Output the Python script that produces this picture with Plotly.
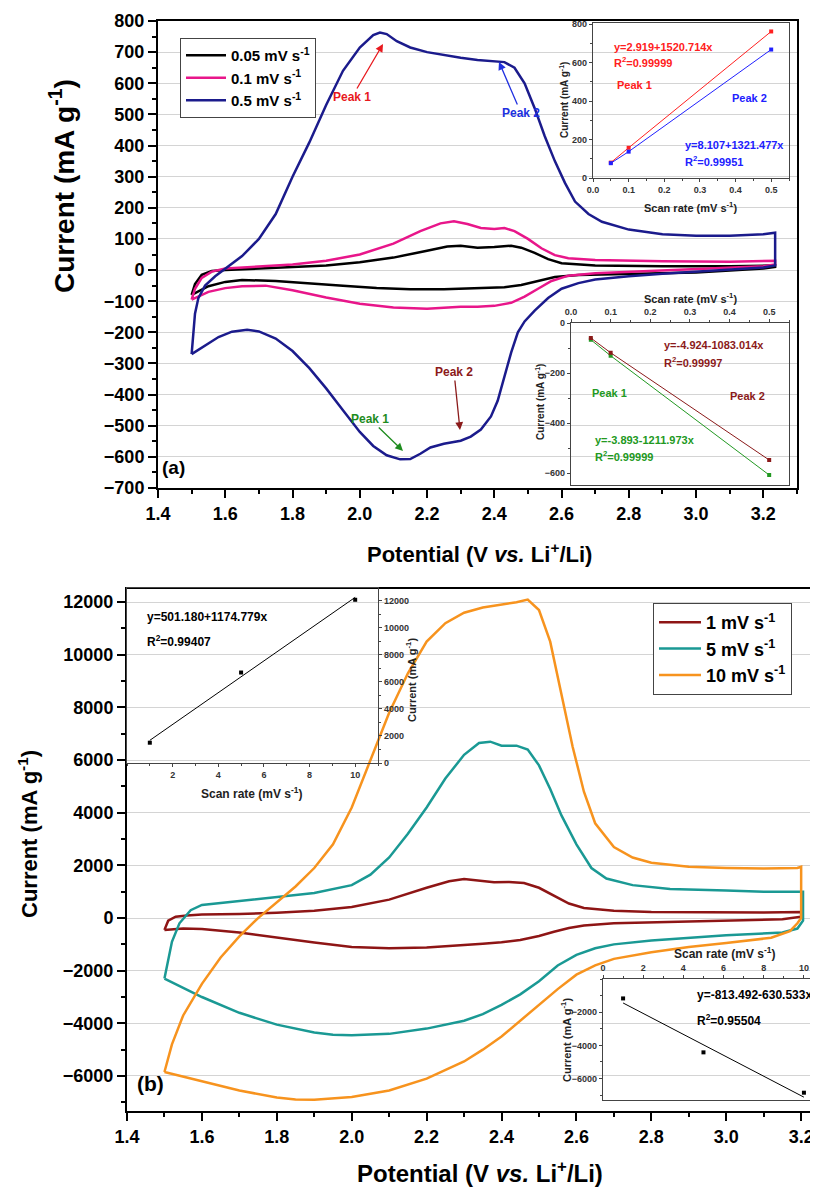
import plotly.graph_objects as go

# page is offset by the 8px body margin, so the figure is 810x1181
OFF = 8
W, H = 818 - OFF, 1189 - OFF
def fx(px): return (px - OFF) / W
def fy(py): return 1 - (py - OFF) / H

FONT = "Liberation Sans"

# ---------------- Panel (a) CV data ----------------
a005_v = [1.50, 1.51, 1.53, 1.56, 1.60, 1.70, 1.80, 1.90, 2.00, 2.10, 2.20, 2.26, 2.30, 2.35, 2.40, 2.45, 2.48, 2.52, 2.56, 2.60, 2.70, 2.90, 3.10, 3.235,
          3.235, 3.20, 3.00, 2.80, 2.65, 2.58, 2.53, 2.48, 2.43, 2.35, 2.25, 2.15, 2.05, 1.95, 1.85, 1.75, 1.65, 1.60, 1.55, 1.50]
a005_i = [-80, -45, -15, -3, 0, 5, 10, 15, 25, 40, 62, 76, 78, 72, 74, 78, 72, 55, 35, 22, 15, 12, 12, 15,
          10, 5, -8, -12, -16, -22, -35, -48, -55, -58, -62, -62, -58, -50, -42, -35, -32, -38, -52, -80]

a01_v = [1.50, 1.51, 1.53, 1.56, 1.60, 1.70, 1.80, 1.90, 2.00, 2.10, 2.18, 2.24, 2.28, 2.32, 2.36, 2.40, 2.43, 2.46, 2.50, 2.54, 2.58, 2.62, 2.70, 2.90, 3.10, 3.235,
         3.235, 3.20, 3.10, 3.00, 2.80, 2.70, 2.62, 2.57, 2.53, 2.49, 2.45, 2.40, 2.35, 2.30, 2.20, 2.10, 2.00, 1.90, 1.80, 1.72, 1.65, 1.60, 1.55, 1.50]
a01_i = [-95, -60, -25, -5, 5, 12, 18, 30, 50, 85, 125, 150, 157, 148, 135, 132, 135, 125, 100, 70, 48, 38, 32, 28, 27, 30,
         18, 12, 8, 2, -5, -10, -18, -35, -60, -85, -105, -115, -118, -118, -124, -120, -108, -88, -65, -50, -52, -58, -70, -95]

a05_v = [1.50, 1.505, 1.51, 1.52, 1.54, 1.57, 1.60, 1.65, 1.70, 1.75, 1.80, 1.85, 1.90, 1.95, 2.00, 2.04, 2.06, 2.08, 2.11, 2.15, 2.20, 2.25, 2.30, 2.35, 2.40, 2.43, 2.46, 2.49, 2.52, 2.55, 2.58, 2.61, 2.64, 2.68, 2.72, 2.80, 2.90, 3.00, 3.10, 3.20, 3.235,
         3.235, 3.20, 3.10, 3.00, 2.90, 2.80, 2.70, 2.65, 2.60, 2.56, 2.52, 2.49, 2.47, 2.45, 2.43, 2.41, 2.39, 2.36, 2.33, 2.30, 2.25, 2.21, 2.18, 2.15, 2.12, 2.08, 2.04, 2.00, 1.95, 1.90, 1.85, 1.80, 1.75, 1.70, 1.665, 1.62, 1.58, 1.55, 1.52, 1.50]
a05_i = [-270, -200, -140, -90, -50, -20, 5, 45, 100, 180, 300, 410, 530, 640, 715, 755, 763, 758, 735, 715, 700, 690, 682, 675, 670, 668, 650, 600, 520, 430, 350, 280, 220, 180, 155, 130, 115, 110, 110, 115, 120,
         15, 8, 2, -5, -12, -20, -30, -42, -60, -90, -130, -165, -200, -265, -345, -420, -470, -512, -535, -548, -558, -570, -590, -607, -608, -595, -565, -520, -450, -380, -315, -260, -220, -197, -192, -198, -215, -235, -255, -270]

# inset (a) upper: anodic peak current vs scan rate
ins_a_rate = [0.05, 0.1, 0.5]
ins_a_p1 = [80, 157, 762]
ins_a_p2 = [77, 137, 668]
# inset (a) lower: cathodic peak current vs scan rate
ins_a_c1 = [-67, -131, -608]
ins_a_c2 = [-60, -119, -548]

# ---------------- Panel (b) CV data ----------------
b1_v = [1.50, 1.505, 1.51, 1.53, 1.56, 1.60, 1.70, 1.80, 1.90, 2.00, 2.10, 2.20, 2.26, 2.30, 2.34, 2.38, 2.42, 2.46, 2.50, 2.54, 2.58, 2.62, 2.70, 2.80, 3.00, 3.10, 3.20,
        3.20, 3.15, 3.00, 2.80, 2.70, 2.62, 2.58, 2.54, 2.50, 2.45, 2.40, 2.35, 2.30, 2.20, 2.10, 2.00, 1.90, 1.80, 1.70, 1.60, 1.55, 1.50]
b1_i = [-450, -300, -100, 50, 100, 130, 150, 200, 280, 420, 700, 1150, 1400, 1480, 1430, 1360, 1370, 1330, 1150, 850, 550, 380, 280, 230, 210, 210, 230,
        50, -50, -100, -150, -200, -280, -380, -520, -680, -830, -920, -980, -1030, -1120, -1150, -1100, -930, -750, -550, -420, -400, -450]

b5_v = [1.50, 1.51, 1.52, 1.54, 1.57, 1.60, 1.70, 1.80, 1.90, 2.00, 2.05, 2.10, 2.15, 2.20, 2.25, 2.30, 2.34, 2.37, 2.40, 2.44, 2.47, 2.50, 2.53, 2.56, 2.60, 2.64, 2.68, 2.75, 2.85, 3.00, 3.10, 3.205,
        3.205, 3.19, 3.15, 3.00, 2.90, 2.80, 2.70, 2.65, 2.60, 2.55, 2.50, 2.45, 2.40, 2.35, 2.30, 2.20, 2.10, 2.00, 1.95, 1.90, 1.80, 1.70, 1.60, 1.55, 1.50]
b5_i = [-2300, -1600, -900, -200, 300, 500, 650, 800, 950, 1250, 1650, 2300, 3200, 4200, 5300, 6200, 6650, 6700, 6550, 6550, 6400, 5800, 4900, 3900, 2800, 1900, 1500, 1250, 1100, 1050, 1000, 1000,
        -100, -400, -550, -650, -750, -850, -1000, -1150, -1400, -1800, -2400, -2900, -3300, -3650, -3900, -4200, -4400, -4450, -4430, -4350, -4050, -3600, -3000, -2650, -2300]

b10_v = [1.50, 1.52, 1.55, 1.60, 1.65, 1.70, 1.75, 1.80, 1.85, 1.90, 1.95, 2.00, 2.05, 2.10, 2.15, 2.20, 2.25, 2.30, 2.35, 2.40, 2.44, 2.47, 2.50, 2.53, 2.56, 2.59, 2.62, 2.65, 2.70, 2.75, 2.80, 2.90, 3.00, 3.10, 3.19, 3.20,
         3.20, 3.19, 3.17, 3.12, 3.00, 2.90, 2.80, 2.70, 2.65, 2.60, 2.55, 2.50, 2.45, 2.40, 2.35, 2.30, 2.20, 2.10, 2.00, 1.90, 1.85, 1.80, 1.70, 1.60, 1.50]
b10_i = [-5850, -4800, -3700, -2500, -1500, -700, 0, 600, 1200, 1900, 2800, 4200, 6000, 7800, 9300, 10500, 11200, 11600, 11800, 11900, 12000, 12100, 11700, 10500, 8500, 6500, 4800, 3600, 2700, 2300, 2100, 1950, 1900, 1880, 1900, 1950,
         0, -200, -500, -750, -950, -1100, -1300, -1550, -1800, -2150, -2700, -3300, -3900, -4500, -5000, -5450, -6100, -6550, -6800, -6900, -6890, -6820, -6550, -6200, -5850]

# inset (b) upper: anodic peak current vs scan rate
ins_b_rate = [1, 5, 10]
ins_b_anod = [1500, 6690, 12070]
ins_b_anod_fit = [1676, 12249]
# inset (b) lower: cathodic peak current
ins_b_cath = [-1170, -4420, -6850]
ins_b_cath_fit = [-1444, -7119]
ins_b_fit_x = [1, 10]

C_BLACK = "#000000"
C_PINK = "#E8168A"
C_NAVY = "#1B1B8C"
C_DRED = "#8E1515"
C_TEAL = "#1A9994"
C_ORANGE = "#F7931E"

fig = go.Figure()

fig.add_trace(go.Scatter(x=a005_v, y=a005_i, mode="lines", line=dict(color=C_BLACK, width=2.5),
                         name="0.05 mV s<sup>-1</sup>", xaxis="x", yaxis="y", legend="legend"))
fig.add_trace(go.Scatter(x=a01_v, y=a01_i, mode="lines", line=dict(color=C_PINK, width=2.5),
                         name="0.1 mV s<sup>-1</sup>", xaxis="x", yaxis="y", legend="legend"))
fig.add_trace(go.Scatter(x=a05_v, y=a05_i, mode="lines", line=dict(color=C_NAVY, width=2.5),
                         name="0.5 mV s<sup>-1</sup>", xaxis="x", yaxis="y", legend="legend"))

fig.add_trace(go.Scatter(x=ins_a_rate, y=ins_a_p1, mode="lines+markers", line=dict(color="#FF2020", width=1),
                         marker=dict(size=4, symbol="square", color="#FF2020"), showlegend=False, xaxis="x2", yaxis="y2"))
fig.add_trace(go.Scatter(x=ins_a_rate, y=ins_a_p2, mode="lines+markers", line=dict(color="#2020FF", width=1),
                         marker=dict(size=4, symbol="square", color="#2020FF"), showlegend=False, xaxis="x2", yaxis="y2"))
fig.add_trace(go.Scatter(x=ins_a_rate, y=ins_a_c1, mode="lines+markers", line=dict(color="#229922", width=1),
                         marker=dict(size=4, symbol="square", color="#229922"), showlegend=False, xaxis="x3", yaxis="y3"))
fig.add_trace(go.Scatter(x=ins_a_rate, y=ins_a_c2, mode="lines+markers", line=dict(color="#8B1A1A", width=1),
                         marker=dict(size=4, symbol="square", color="#8B1A1A"), showlegend=False, xaxis="x3", yaxis="y3"))

fig.add_trace(go.Scatter(x=b1_v, y=b1_i, mode="lines", line=dict(color=C_DRED, width=2.5),
                         name="1 mV s<sup>-1</sup>", xaxis="x4", yaxis="y4", legend="legend2"))
fig.add_trace(go.Scatter(x=b5_v, y=b5_i, mode="lines", line=dict(color=C_TEAL, width=2.5),
                         name="5 mV s<sup>-1</sup>", xaxis="x4", yaxis="y4", legend="legend2"))
fig.add_trace(go.Scatter(x=b10_v, y=b10_i, mode="lines", line=dict(color=C_ORANGE, width=2.5),
                         name="10 mV s<sup>-1</sup>", xaxis="x4", yaxis="y4", legend="legend2"))

fig.add_trace(go.Scatter(x=ins_b_fit_x, y=ins_b_anod_fit, mode="lines", line=dict(color="black", width=1),
                         showlegend=False, xaxis="x5", yaxis="y5"))
fig.add_trace(go.Scatter(x=ins_b_rate, y=ins_b_anod, mode="markers", marker=dict(size=4, symbol="square", color="black"),
                         showlegend=False, xaxis="x5", yaxis="y5"))
fig.add_trace(go.Scatter(x=ins_b_fit_x, y=ins_b_cath_fit, mode="lines", line=dict(color="black", width=1),
                         showlegend=False, xaxis="x6", yaxis="y6"))
fig.add_trace(go.Scatter(x=ins_b_rate, y=ins_b_cath, mode="markers", marker=dict(size=4, symbol="square", color="black"),
                         showlegend=False, xaxis="x6", yaxis="y6"))

tick_main = dict(family=FONT, size=18, color="black", weight="bold")
tick_ins = dict(family=FONT, size=9, color="#333333", weight="bold")

def main_x(dom, rng, anchor):
    return dict(domain=dom, range=rng, anchor=anchor, dtick=0.2, tick0=1.4, tickformat=".1f",
                ticks="outside", ticklen=8, tickwidth=2, tickcolor="black", automargin=False,
                minor=dict(dtick=0.1, ticks="outside", ticklen=4, tickwidth=1.5, tickcolor="black", showgrid=False),
                showline=True, linewidth=2, linecolor="black", mirror=True, showgrid=False, zeroline=False,
                tickfont=tick_main)

def main_y(dom, rng, anchor, dt):
    return dict(domain=dom, range=rng, anchor=anchor, dtick=dt, tick0=0, tickformat="d",
                ticks="outside", ticklen=8, tickwidth=2, tickcolor="black", automargin=False,
                minor=dict(dtick=dt / 2, ticks="outside", ticklen=4, tickwidth=1.5, tickcolor="black", showgrid=False),
                showline=True, linewidth=2, linecolor="black", mirror=True, showgrid=True,
                gridcolor="#d4d4d4", gridwidth=1, zeroline=False, tickfont=tick_main)

def ins_ax(dom, rng, anchor, **kw):
    d = dict(domain=dom, range=rng, anchor=anchor, ticks="outside", ticklen=3, tickwidth=1, tickcolor="#444",
             showline=True, linewidth=1.2, linecolor="#444", mirror=True, showgrid=False, zeroline=False,
             automargin=False, tickfont=tick_ins)
    d.update(kw)
    return d

layout = dict(
    width=W, height=H, margin=dict(l=0, r=0, t=0, b=0, autoexpand=False),
    paper_bgcolor="white", plot_bgcolor="rgba(0,0,0,0)",
    xaxis=main_x([fx(158), fx(797)], [1.4, 3.3], "y"),
    yaxis=main_y([fy(488), fy(21)], [-700, 800], "x", 100),
    xaxis2=ins_ax([fx(593), fx(789)], [0, 0.55], "y2", dtick=0.1, tickformat=".1f",
                  minor=dict(dtick=0.05, ticks="outside", ticklen=2, tickcolor="#444")),
    yaxis2=ins_ax([fy(178), fy(23)], [0, 806], "x2", dtick=200,
                  minor=dict(dtick=100, ticks="outside", ticklen=2, tickcolor="#444")),
    xaxis3=ins_ax([fx(571), fx(789)], [0, 0.55], "y3", side="top", dtick=0.1, tickformat=".1f",
                  minor=dict(dtick=0.05, ticks="outside", ticklen=2, tickcolor="#444")),
    yaxis3=ins_ax([fy(485), fy(323)], [-648, 0], "x3", dtick=200,
                  minor=dict(dtick=100, ticks="outside", ticklen=2, tickcolor="#444")),
    xaxis4=main_x([fx(127), fx(818)], [1.4, 3.245], "y4"),
    yaxis4=main_y([fy(1111), fy(589)], [-7330, 12500], "x4", 2000),
    xaxis5=ins_ax([fx(127), fx(378)], [0, 11], "y5", tickvals=[2, 4, 6, 8, 10],
                  minor=dict(dtick=1, ticks="outside", ticklen=2, tickcolor="#444")),
    yaxis5=ins_ax([fy(763), fy(588)], [0, 12940], "x5", side="right", dtick=2000, tickformat="d",
                  minor=dict(dtick=1000, ticks="outside", ticklen=2, tickcolor="#444")),
    xaxis6=ins_ax([fx(603), fx(818)], [0, 10.7], "y6", side="top", tickvals=[0, 2, 4, 6, 8, 10],
                  minor=dict(dtick=1, ticks="outside", ticklen=2, tickcolor="#444")),
    yaxis6=ins_ax([fy(1100), fy(979)], [-7290, 0], "x6", tickvals=[-2000, -4000, -6000], tickformat="d",
                  minor=dict(dtick=1000, ticks="outside", ticklen=2, tickcolor="#444")),
    legend=dict(x=fx(180), y=fy(38), xanchor="left", yanchor="top", bgcolor="white",
                bordercolor="#444", borderwidth=1, font=dict(family=FONT, size=15, color="black", weight="bold"),
                itemwidth=40, tracegroupgap=0),
    legend2=dict(x=fx(653), y=fy(603), xanchor="left", yanchor="top", bgcolor="white",
                 bordercolor="#444", borderwidth=1, font=dict(family=FONT, size=18, color="black", weight="bold"),
                 itemwidth=42, tracegroupgap=0),
    shapes=[
        dict(type="rect", xref="x2 domain", yref="y2 domain", x0=0, x1=1, y0=0, y1=1,
             fillcolor="white", line=dict(width=0), layer="below"),
        dict(type="rect", xref="x3 domain", yref="y3 domain", x0=0, x1=1, y0=0, y1=1,
             fillcolor="white", line=dict(width=0), layer="below"),
    ],
)
fig.update_layout(**layout)

ann = []
def txt(px, py, text, size, color="black", xanchor="center", angle=0):
    ann.append(dict(x=fx(px), y=fy(py), xref="paper", yref="paper", text=text, showarrow=False,
                    xanchor=xanchor, yanchor="middle", textangle=angle,
                    font=dict(family=FONT, size=size, color=color)))

def peak(tx, ty, hx, hy, text, color):
    ann.append(dict(x=fx(hx), y=fy(hy), xref="paper", yref="paper", ax=tx - hx, ay=ty - hy,
                    axref="pixel", ayref="pixel", text=text, showarrow=True, arrowhead=2,
                    arrowsize=1.2, arrowwidth=1.3, arrowcolor=color, standoff=0,
                    font=dict(family=FONT, size=12, color=color)))

txt(62, 186, "<b>Current (mA g<sup>-1</sup>)</b>", 28, angle=-90)
txt(479, 553, "<b>Potential (V <i>vs.</i> Li<sup>+</sup>/Li)</b>", 22)
txt(28, 834, "<b>Current (mA g<sup>-1</sup>)</b>", 22, angle=-90)
txt(480, 1172, "<b>Potential (V <i>vs.</i> Li<sup>+</sup>/Li)</b>", 24)
txt(173, 467, "<b>(a)</b>", 19)
txt(150, 1083, "<b>(b)</b>", 21)

peak(352, 97, 383, 44, "<b>Peak 1</b>", "#E8191E")
peak(521, 113, 499, 62, "<b>Peak 2</b>", "#2030E0")
peak(370, 419, 403, 451, "<b>Peak 1</b>", "#1E8C1E")
peak(454, 372, 460, 430, "<b>Peak 2</b>", "#8B1A1A")

txt(612, 47, "<b>y=2.919+1520.714x</b>", 11, "#FF2020", "left")
txt(612, 62, "<b>R<sup>2</sup>=0.99999</b>", 11, "#FF2020", "left")
txt(615, 85, "<b>Peak 1</b>", 11, "#FF2020", "left")
txt(730, 98, "<b>Peak 2</b>", 11, "#2020FF", "left")
txt(683, 145, "<b>y=8.107+1321.477x</b>", 11, "#2020FF", "left")
txt(683, 161, "<b>R<sup>2</sup>=0.99951</b>", 11, "#2020FF", "left")
txt(690, 207, "<b>Scan rate (mV s<sup>-1</sup>)</b>", 11, "#222")
txt(564, 100, "<b>Current (mA g<sup>-1</sup>)</b>", 10, "#222", angle=-90)
txt(690, 298, "<b>Scan rate (mV s<sup>-1</sup>)</b>", 11, "#222")
txt(540, 402, "<b>Current (mA g<sup>-1</sup>)</b>", 10, "#222", angle=-90)
txt(662, 345, "<b>y=-4.924-1083.014x</b>", 11, "#8B1A1A", "left")
txt(662, 362, "<b>R<sup>2</sup>=0.99997</b>", 11, "#8B1A1A", "left")
txt(590, 393, "<b>Peak 1</b>", 11, "#229922", "left")
txt(728, 396, "<b>Peak 2</b>", 11, "#8B1A1A", "left")
txt(593, 440, "<b>y=-3.893-1211.973x</b>", 11, "#229922", "left")
txt(593, 456, "<b>R<sup>2</sup>=0.99999</b>", 11, "#229922", "left")

txt(145, 617, "<b>y=501.180+1174.779x</b>", 12, "black", "left")
txt(145, 641, "<b>R<sup>2</sup>=0.99407</b>", 12, "black", "left")
txt(252, 793, "<b>Scan rate (mV s<sup>-1</sup>)</b>", 12, "#222")
txt(411, 680, "<b>Current (mA g<sup>-1</sup>)</b>", 11, "#222", angle=-90)
txt(695, 995, "<b>y=-813.492-630.533x</b>", 12, "black", "left")
txt(695, 1020, "<b>R<sup>2</sup>=0.95504</b>", 12, "black", "left")
txt(725, 953, "<b>Scan rate (mV s<sup>-1</sup>)</b>", 12, "#222")
txt(566, 1040, "<b>Current (mA g<sup>-1</sup>)</b>", 11, "#222", angle=-90)

fig.update_layout(annotations=ann)
fig.write_html("out.html")
